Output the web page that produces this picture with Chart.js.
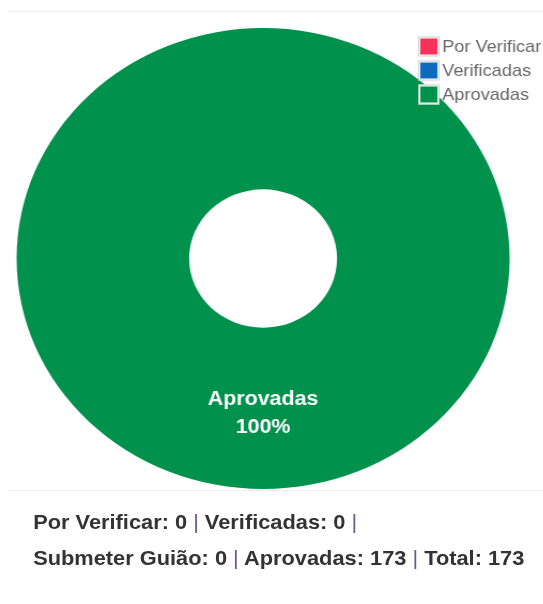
<!DOCTYPE html>
<html>
<head>
<meta charset="utf-8">
<script src="https://cdn.jsdelivr.net/npm/chart.js@4.4.1/dist/chart.umd.min.js"></script>
<style>
html,body{margin:0;padding:0;background:#fff;overflow:hidden;width:543px;height:604px;}
#stage{position:absolute;left:0;top:0;width:508px;height:604px;transform:scaleX(1.0694);transform-origin:0 0;}
#card{position:absolute;left:6.5px;top:11px;width:501.5px;border-top:1px solid #eeeeee;}
#chartBox{position:relative;width:501px;height:478px;border-bottom:1px solid #eeeeee;}
#footer{position:absolute;left:31px;top:504px;font-family:"Liberation Sans",Arial,sans-serif;font-weight:bold;font-size:20.4px;line-height:36px;color:#333;white-space:nowrap;}
#footer .sep{color:#6a5a8a;font-weight:normal;}
</style>
</head>
<body>
<div id="stage">
  <div id="card">
    <div id="chartBox"><canvas id="c"></canvas></div>
  </div>
  <div id="footer"></div>
</div>
<script>
// ---- data ----
const categories = ['Por Verificar', 'Verificadas', 'Aprovadas'];
const counts = [0, 0, 173];
const colors = ['#F5315C', '#0D6ABF', '#00914D'];
const footerLabels = ['Por Verificar', 'Verificadas', 'Submeter Guião', 'Aprovadas', 'Total'];
const footerCounts = [0, 0, 0, 173, 173];
const footerBreakAfter = 2; // items on first line

// ---- footer text ----
(function () {
  const f = document.getElementById('footer');
  let html = '';
  footerLabels.forEach((l, i) => {
    html += l + ': ' + footerCounts[i];
    if (i < footerLabels.length - 1) {
      html += ' <span class="sep">|</span>';
      html += (i === footerBreakAfter - 1) ? '<br>' : ' ';
    }
  });
  f.innerHTML = html;
})();

// ---- overlay legend (top-right, over the chart) ----
const overlayLegend = {
  id: 'overlayLegend',
  afterDraw(chart) {
    const ctx = chart.ctx;
    ctx.save();
    ctx.font = '17px "Liberation Sans", Arial, sans-serif';
    ctx.textBaseline = 'middle';
    ctx.textAlign = 'left';
    const bx = 384, tx = 406.5;
    chart.data.labels.forEach((lab, i) => {
      const y = 34.5 + i * 24;
      ctx.fillStyle = '#ffffff';
      ctx.fillRect(bx, y - 10, 20, 20);
      ctx.strokeStyle = '#cccccc';
      ctx.lineWidth = 1;
      ctx.strokeRect(bx + 0.5, y - 9.5, 19, 19);
      ctx.fillStyle = chart.data.datasets[0].backgroundColor[i];
      ctx.fillRect(bx + 2, y - 8, 16, 16);
      ctx.fillStyle = '#666666';
      ctx.fillText(lab, tx, y + 0.5);
    });
    ctx.restore();
  }
};

// ---- slice labels (label + percentage) ----
const sliceLabels = {
  id: 'sliceLabels',
  afterDatasetsDraw(chart) {
    const ctx = chart.ctx;
    const ds = chart.data.datasets[0];
    const total = ds.data.reduce((a, b) => a + b, 0);
    const meta = chart.getDatasetMeta(0);
    ctx.save();
    ctx.fillStyle = '#ffffff';
    ctx.font = 'bold 20px "Liberation Sans", Arial, sans-serif';
    ctx.textAlign = 'center';
    ctx.textBaseline = 'alphabetic';
    meta.data.forEach((arc, i) => {
      const v = ds.data[i];
      if (!v) return;
      const p = arc.tooltipPosition();
      const pct = Math.round(v / total * 100) + '%';
      ctx.fillText(chart.data.labels[i], p.x, p.y - 3.8);
      ctx.fillText(pct, p.x, p.y + 24.7);
    });
    ctx.restore();
  }
};

new Chart(document.getElementById('c'), {
  type: 'doughnut',
  data: {
    labels: categories,
    datasets: [{
      data: counts,
      backgroundColor: colors,
      borderWidth: 0,
      hoverOffset: 0
    }]
  },
  options: {
    responsive: true,
    maintainAspectRatio: false,
    animation: false,
    cutout: '30%',
    layout: { padding: { left: 0, right: 23, top: 16, bottom: 1 } },
    plugins: {
      legend: { display: false },
      tooltip: { enabled: false }
    },
    events: []
  },
  plugins: [sliceLabels, overlayLegend]
});
</script>
</body>
</html>
